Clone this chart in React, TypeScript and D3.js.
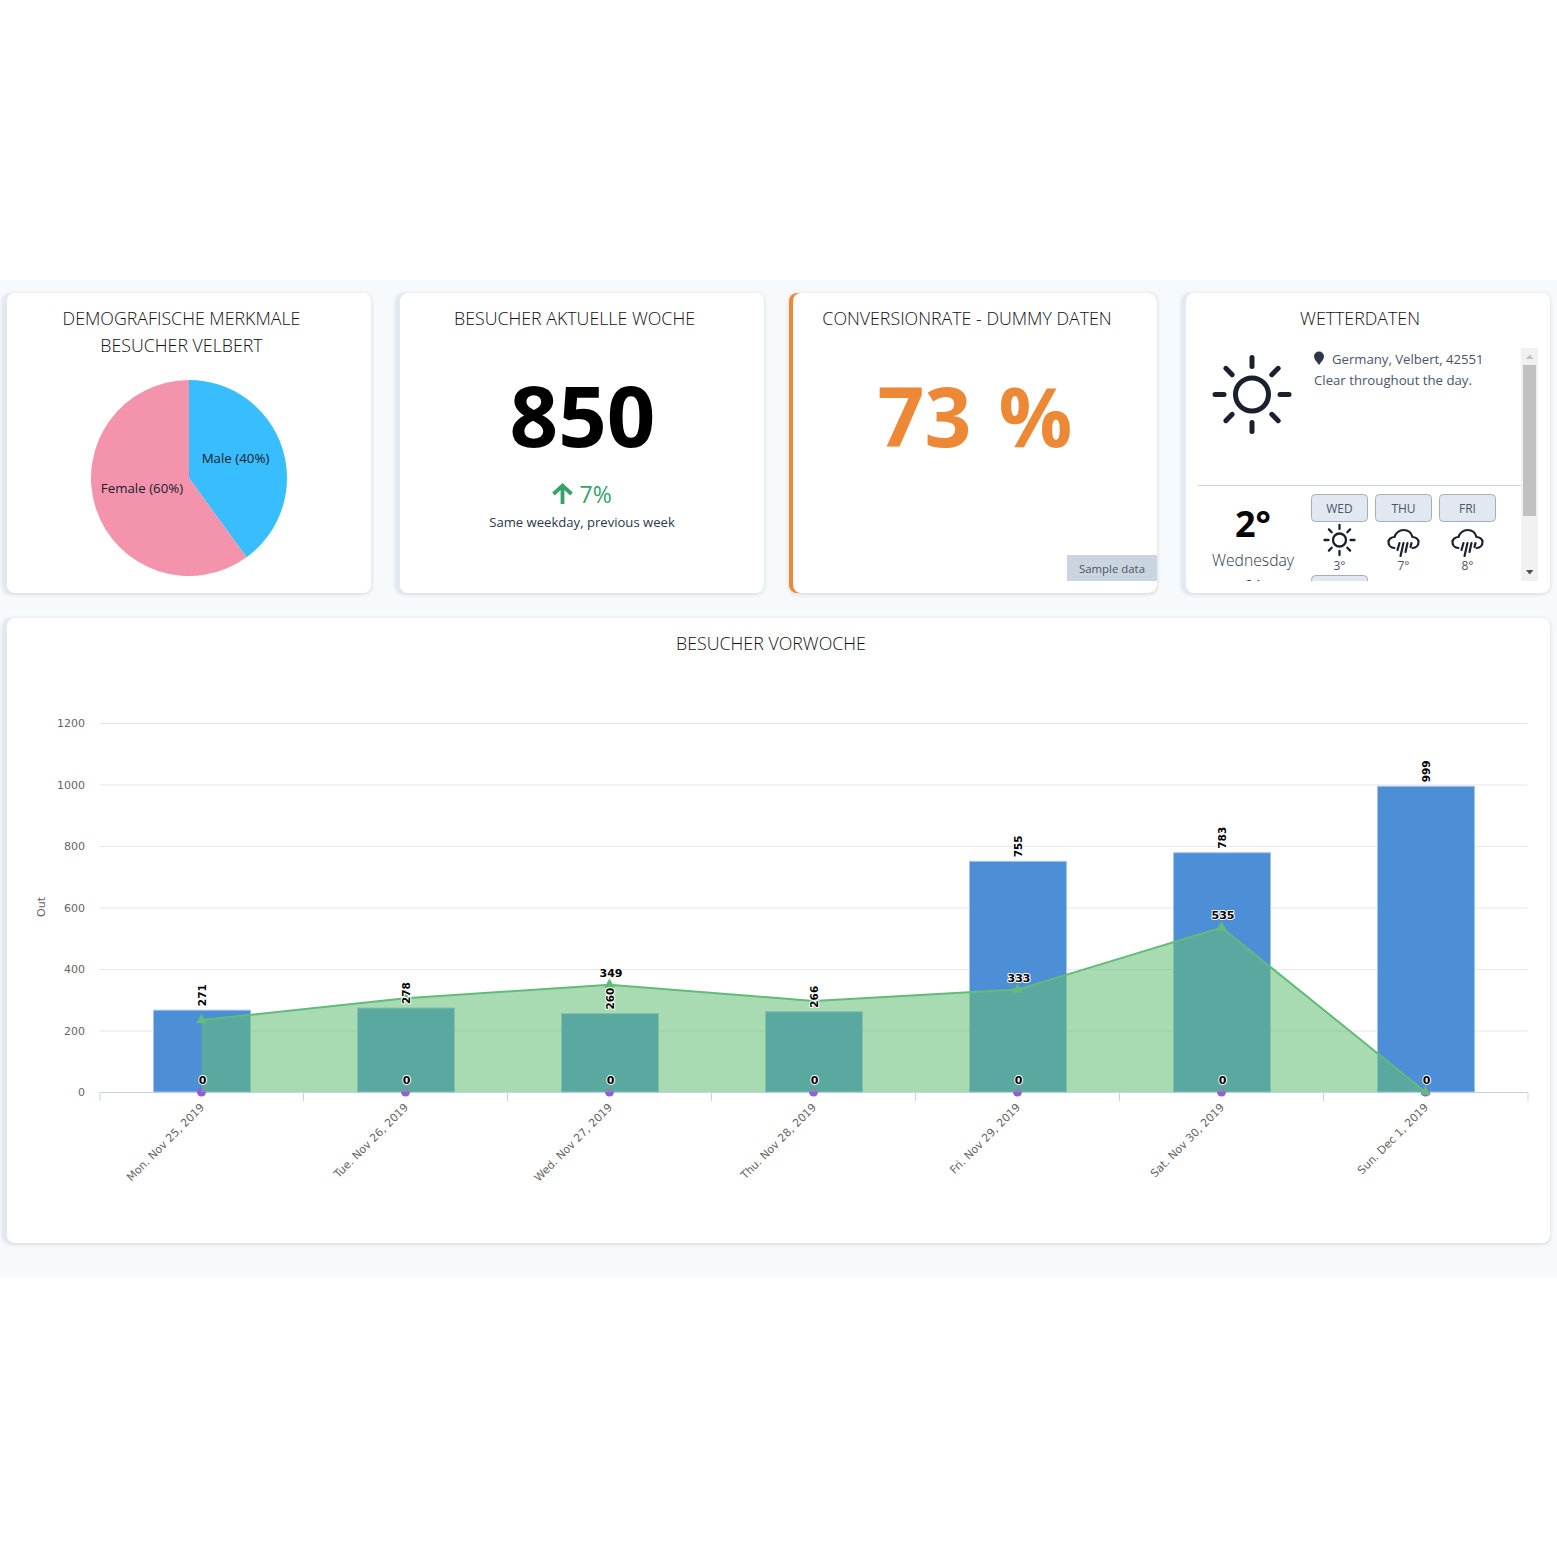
import React, {useEffect, useRef} from 'react';
import * as d3 from 'd3';

// chart data
const days = [
  'Mon. Nov 25, 2019',
  'Tue. Nov 26, 2019',
  'Wed. Nov 27, 2019',
  'Thu. Nov 28, 2019',
  'Fri. Nov 29, 2019',
  'Sat. Nov 30, 2019',
  'Sun. Dec 1, 2019',
];
const barValues = [271, 278, 260, 266, 755, 783, 999];
const areaValues = [234, 305, 349, 296, 333, 535, 0];
const dotValues = [0, 0, 0, 0, 0, 0, 0];
const areaLabelled = [false, false, true, false, true, true, false];
const yTicks = [0, 200, 400, 600, 800, 1000, 1200];

const pieLabels = ['Male (40%)', 'Female (60%)'];
const pieValues = [40, 60];
const pieColors = ['#38bdff', '#f394ac'];

const forecastDays = ['WED', 'THU', 'FRI'];
const forecastTemps = ['3°', '7°', '8°'];
const forecastIcons = ['sun', 'rain', 'rain'];

const uiFont = "'Open Sans', sans-serif";
const axisFont = "'DejaVu Sans', sans-serif";

const card = (svg, left, top, right, bottom, edge) => {
  svg
    .append('rect')
    .attr('x', left)
    .attr('y', top)
    .attr('width', right - left)
    .attr('height', bottom - top)
    .attr('rx', 8)
    .attr('fill', edge)
    .style('filter', 'drop-shadow(0 1px 2px rgba(0,0,0,0.14))');
  svg
    .append('rect')
    .attr('x', left + 4)
    .attr('y', top)
    .attr('width', right - left - 4)
    .attr('height', bottom - top)
    .attr('rx', 8)
    .attr('fill', '#fff');
};

const label = (svg, str, x, y, size, color, anchor = 'middle', weight = 400) =>
  svg
    .append('text')
    .attr('x', x)
    .attr('y', y)
    .attr('font-family', uiFont)
    .attr('font-size', size)
    .attr('font-weight', weight)
    .attr('fill', color)
    .attr('text-anchor', anchor)
    .text(str);

const title = (svg, str, x, y) => label(svg, str, x, y, 17.8, '#111', 'middle', 300);

const sunIcon = (svg, cx, cy, r, ray0, ray1, width) => {
  const g = svg
    .append('g')
    .attr('transform', `translate(${cx}, ${cy})`)
    .attr('stroke', '#1a202c')
    .attr('fill', 'none')
    .attr('stroke-linecap', 'round');
  g.append('circle').attr('r', r).attr('stroke-width', width);
  d3.range(8).forEach(i => {
    const a = (i * Math.PI) / 4;
    g.append('line')
      .attr('x1', Math.cos(a) * ray0)
      .attr('y1', Math.sin(a) * ray0)
      .attr('x2', Math.cos(a) * ray1)
      .attr('y2', Math.sin(a) * ray1)
      .attr('stroke-width', width);
  });
};

const rainIcon = (svg, cx, cy) => {
  const g = svg
    .append('g')
    .attr('transform', `translate(${cx}, ${cy})`)
    .attr('stroke', '#1a202c')
    .attr('fill', 'none')
    .attr('stroke-width', 2.2)
    .attr('stroke-linecap', 'round');
  g.append('path').attr(
    'd',
    'M-9,5 C-13,5 -15,2 -15,-1 C-15,-4 -12,-6 -9,-6 C-8,-10 -4,-13 0,-13 C5,-13 8,-10 9,-6 C12,-6 15,-4 15,-1 C15,2 13,5 9,5',
  );
  g.append('path').attr('d', 'M-4,0 L-6,7 M0,0 L-3,13 M4,0 L2,9 M8,0 L7,4');
};

const drawPie = svg => {
  const g = svg.append('g').attr('transform', 'translate(189, 478)');
  const arc = d3.arc().innerRadius(0).outerRadius(98);
  const pie = d3.pie().sort(null)(pieValues);
  g.selectAll('path')
    .data(pie)
    .enter()
    .append('path')
    .attr('d', arc)
    .attr('fill', (d, i) => pieColors[i]);
  g.selectAll('text')
    .data(pie)
    .enter()
    .append('text')
    .attr('x', (d, i) => (i === 0 ? 46.5 : -47))
    .attr('y', (d, i) => (i === 0 ? -15 : 15))
    .attr('text-anchor', 'middle')
    .attr('font-family', uiFont)
    .attr('font-size', 13.3)
    .attr('fill', '#1a202c')
    .text((d, i) => pieLabels[i]);
};

const drawCards = svg => {
  // demographics
  card(svg, 3, 293, 371, 593, '#e2e9f3');
  title(svg, 'DEMOGRAFISCHE MERKMALE', 181.5, 325);
  title(svg, 'BESUCHER VELBERT', 181.5, 352);
  drawPie(svg);

  // visitors this week
  card(svg, 396, 293, 764, 593, '#e2e9f3');
  title(svg, 'BESUCHER AKTUELLE WOCHE', 574.5, 325);
  label(svg, '850', 582.5, 447, 85, '#000', 'middle', 700);
  svg
    .append('path')
    .attr('d', 'M562.5,504 V486 M553.5,494 L562.5,485.5 L571.5,494')
    .attr('fill', 'none')
    .attr('stroke', '#38a169')
    .attr('stroke-width', 3.8);
  label(svg, '7%', 579.5, 503, 23, '#38a169', 'start', 400);
  label(svg, 'Same weekday, previous week', 582, 527, 13.1, '#2d3748');

  // conversion
  card(svg, 789, 293, 1157, 593, '#ed8936');
  title(svg, 'CONVERSIONRATE - DUMMY DATEN', 967, 325);
  label(svg, '73 %', 975, 447, 82, '#ed8936', 'middle', 700).attr('word-spacing', 6);
  svg.append('rect').attr('x', 1067).attr('y', 555).attr('width', 90).attr('height', 26).attr('fill', '#cbd5e0');
  label(svg, 'Sample data', 1112, 573, 11.4, '#4a5568');

  // weather
  card(svg, 1182, 293, 1550, 593, '#e2e9f3');
  title(svg, 'WETTERDATEN', 1360, 325);
  sunIcon(svg, 1252, 394.5, 16.5, 28, 37, 5);
  svg
    .append('path')
    .attr('d', 'M1319,365 C1316,361 1314,359 1314,356.5 A5,5 0 0 1 1324,356.5 C1324,359 1322,361 1319,365 Z')
    .attr('fill', '#2d3748');
  label(svg, 'Germany, Velbert, 42551', 1332, 364, 13.15, '#4a5568', 'start');
  label(svg, 'Clear throughout the day.', 1314, 385, 13.2, '#4a5568', 'start');
  svg.append('line').attr('x1', 1198).attr('x2', 1521).attr('y1', 485.5).attr('y2', 485.5).attr('stroke', '#cbd5e0');

  // the panel scrolls, so the next row is cut off at its bottom edge
  svg
    .append('clipPath')
    .attr('id', 'weather-clip')
    .append('rect')
    .attr('x', 1186)
    .attr('y', 348)
    .attr('width', 352)
    .attr('height', 233);
  const weather = svg.append('g').attr('clip-path', 'url(#weather-clip)');
  label(weather, '2°', 1253, 537, 36, '#000', 'middle', 700);
  label(weather, 'Wednesday', 1253, 566, 15.7, '#2d3748', 'middle', 300);
  label(weather, '04', 1253, 590, 14, '#2d3748');

  const slot = d3.scaleBand().domain(forecastDays).range([1307.5, 1499.5]);
  forecastDays.forEach((d, i) => {
    const cx = slot(d) + slot.bandwidth() / 2;
    weather
      .append('rect')
      .attr('x', cx - 28)
      .attr('y', 494.5)
      .attr('width', 56)
      .attr('height', 27)
      .attr('rx', 4)
      .attr('fill', '#e2e8f0')
      .attr('stroke', '#a0aec0');
    label(weather, d, cx, 513, 12, '#4a5568');
    if (forecastIcons[i] === 'sun') sunIcon(weather, cx, 540, 6.5, 11, 15, 2.3);
    else rainIcon(weather, cx, 543);
    label(weather, forecastTemps[i], cx, 570, 12, '#4a5568');
  });
  weather
    .append('rect')
    .attr('x', 1311.5)
    .attr('y', 575.5)
    .attr('width', 56)
    .attr('height', 27)
    .attr('rx', 4)
    .attr('fill', '#e2e8f0')
    .attr('stroke', '#a0aec0');

  // scrollbar
  svg.append('rect').attr('x', 1521).attr('y', 348).attr('width', 17).attr('height', 233).attr('fill', '#f1f1f1');
  svg.append('rect').attr('x', 1523).attr('y', 365).attr('width', 13).attr('height', 151).attr('fill', '#c1c1c1');
  svg.append('path').attr('d', 'M1526,359 L1533.5,359 L1529.7,354.5 Z').attr('fill', '#c1c1c1');
  svg.append('path').attr('d', 'M1526,570 L1533.5,570 L1529.7,574.5 Z').attr('fill', '#505050');
};

const drawChart = svg => {
  card(svg, 3, 618, 1550, 1243, '#e2e9f3');
  title(svg, 'BESUCHER VORWOCHE', 771, 650);

  const margin = {left: 99.5, right: 1527.5, top: 723, bottom: 1092};
  const x = d3.scaleBand().domain(days).range([margin.left, margin.right]);
  const y = d3.scaleLinear().domain([0, 1200]).range([margin.bottom, margin.top]);
  const center = d => x(d) + x.bandwidth() / 2;
  const barWidth = 97;

  const yAxis = svg
    .append('g')
    .attr('transform', `translate(${margin.left}, 0)`)
    .call(
      d3
        .axisLeft(y)
        .tickValues(yTicks)
        .tickFormat(d3.format('d'))
        .tickSize(-(margin.right - margin.left))
        .tickPadding(14.5),
    );
  yAxis.select('.domain').remove();
  yAxis.selectAll('line').attr('stroke', '#e6e6e6');
  yAxis.selectAll('text').attr('font-family', axisFont).attr('font-size', 11).attr('fill', '#666');

  svg
    .append('text')
    .attr('transform', 'translate(45, 907) rotate(-90)')
    .attr('text-anchor', 'middle')
    .attr('font-family', axisFont)
    .attr('font-size', 11)
    .attr('fill', '#666')
    .text('Out');

  const xAxis = svg
    .append('g')
    .attr('transform', `translate(0, ${margin.bottom})`)
    .call(d3.axisBottom(x).tickSize(0).tickSizeOuter(9));
  xAxis.select('.domain').attr('stroke', '#c5d3ea');
  xAxis
    .selectAll('text')
    .attr('font-family', axisFont)
    .attr('font-size', 11)
    .attr('fill', '#666')
    .attr('text-anchor', 'end')
    .attr('dx', 0)
    .attr('dy', 0)
    .attr('y', 0)
    .attr('transform', 'translate(3.5, 16) rotate(-45)');
  svg
    .append('g')
    .selectAll('line')
    .data(days.slice(1))
    .enter()
    .append('line')
    .attr('x1', d => x(d))
    .attr('x2', d => x(d))
    .attr('y1', margin.bottom)
    .attr('y2', margin.bottom + 9)
    .attr('stroke', '#c5d3ea');

  // bars sit a touch lower than their own value on the axis
  svg
    .append('g')
    .selectAll('rect')
    .data(barValues)
    .enter()
    .append('rect')
    .attr('x', (d, i) => Math.round(center(days[i]) - barWidth / 2) + 0.5)
    .attr('y', d => y(d) + 1.5)
    .attr('width', barWidth)
    .attr('height', d => margin.bottom - y(d) - 1.5)
    .attr('fill', '#4d8fd6')
    .attr('stroke', '#a5c3ea');

  svg
    .append('g')
    .selectAll('circle')
    .data(dotValues)
    .enter()
    .append('circle')
    .attr('cx', (d, i) => center(days[i]))
    .attr('cy', d => y(d))
    .attr('r', 4.5)
    .attr('fill', '#8e5fd9');

  const area = d3
    .area()
    .x((d, i) => center(days[i]))
    .y0(margin.bottom)
    .y1(d => y(d));
  const line = d3
    .line()
    .x((d, i) => center(days[i]))
    .y(d => y(d));
  svg.append('path').attr('d', area(areaValues)).attr('fill', '#64be75').attr('fill-opacity', 0.556);
  svg.append('path').attr('d', line(areaValues)).attr('fill', 'none').attr('stroke', '#62bb78').attr('stroke-width', 2);
  svg
    .append('g')
    .selectAll('path')
    .data(areaValues)
    .enter()
    .append('path')
    .attr('d', d3.symbol(d3.symbolTriangle, 50))
    .attr('transform', (d, i) => `translate(${center(days[i])}, ${y(d)})`)
    .attr('fill', '#62bb78');

  const haloText = sel =>
    sel
      .attr('font-family', axisFont)
      .attr('font-weight', 700)
      .attr('fill', '#000')
      .attr('stroke', '#fff')
      .attr('stroke-width', 2)
      .attr('paint-order', 'stroke')
      .attr('stroke-linejoin', 'round');

  svg
    .append('g')
    .selectAll('text')
    .data(barValues)
    .enter()
    .append('text')
    .call(haloText)
    .attr('font-size', 10.5)
    .attr('transform', (d, i) => `translate(${center(days[i]) + 4}, ${y(d) - 2.5}) rotate(-90)`)
    .text(d => d);

  svg
    .append('g')
    .selectAll('text')
    .data(dotValues)
    .enter()
    .append('text')
    .call(haloText)
    .attr('font-size', 11)
    .attr('text-anchor', 'middle')
    .attr('x', (d, i) => center(days[i]) + 1)
    .attr('y', d => y(d) - 8)
    .text(d => d);

  svg
    .append('g')
    .selectAll('text')
    .data(areaValues)
    .enter()
    .filter((d, i) => areaLabelled[i])
    .append('text')
    .call(haloText)
    .attr('font-size', 11)
    .attr('text-anchor', 'middle')
    .attr('x', d => center(days[areaValues.indexOf(d)]) + 1.5)
    .attr('y', d => y(d) - 8)
    .text(d => d);
};

const draw = node => {
  const svg = d3.select(node);
  svg.selectAll('*').remove();
  svg.append('rect').attr('x', 0).attr('y', 280).attr('width', 1557).attr('height', 997).attr('fill', '#f7fafc');
  drawCards(svg);
  drawChart(svg);
};

export default function App() {
  const ref = useRef(null);

  useEffect(() => {
    draw(ref.current);
  }, []);

  return (
    <svg
      ref={ref}
      width={1557}
      height={1557}
      style={{position: 'absolute', left: 0, top: 0, display: 'block', background: '#fff'}}
    />
  );
}
